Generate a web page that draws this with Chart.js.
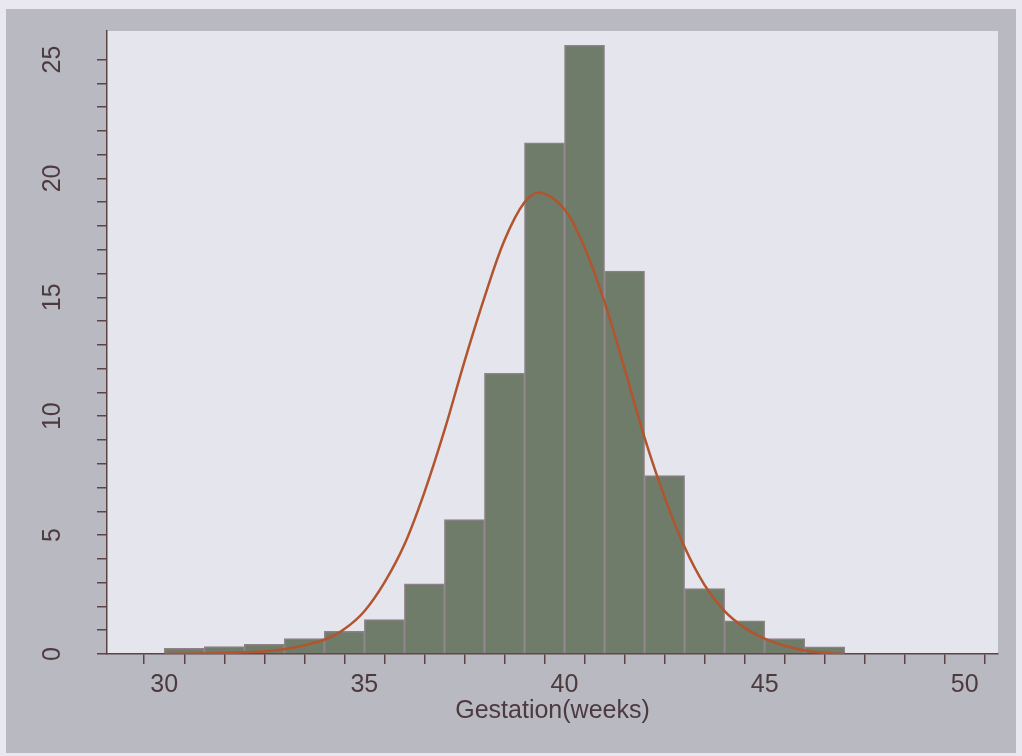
<!DOCTYPE html>
<html>
<head>
<meta charset="utf-8">
<script src="https://cdn.jsdelivr.net/npm/chart.js@4.4.1/dist/chart.umd.min.js"></script>
<style>
    html, body { margin: 0; padding: 0; background: #e8e8ee; }
    #wrap { width: 1022px; height: 756px; position: relative; }
</style>
</head>
<body>
<div id="wrap"><canvas id="chart_hist"></canvas></div>
<script>
// histogram bins (1 week wide), value = bar height
const binStart = [30, 31, 32, 33, 34, 35, 36, 37, 38, 39, 40, 41, 42, 43, 44, 45, 46];
const binValue = [0.24, 0.31, 0.41, 0.65, 0.95, 1.45, 2.95, 5.65, 11.8, 21.5, 25.6, 16.1, 7.5, 2.75, 1.4, 0.65, 0.3];

// fitted normal curve
const curveWeek = [30, 31, 32, 33, 34, 34.5, 35, 35.5, 36, 36.5, 37, 37.5, 38, 38.5, 39, 39.4, 40, 40.5, 41, 41.5, 42, 42.5, 43, 43.5, 44, 44.5, 45, 45.5, 46, 46.5, 47];
const curveValue = [0.0, 0.02, 0.07, 0.2, 0.6, 1.05, 1.8, 3.0, 4.6, 6.8, 9.4, 12.3, 15.0, 17.4, 19.0, 19.4, 18.7, 17.1, 14.8, 12.0, 9.1, 6.6, 4.5, 2.9, 1.8, 1.1, 0.65, 0.35, 0.15, 0.05, 0.0];

const xTicks = [30, 31, 32, 33, 34, 35, 36, 37, 38, 39, 40, 41, 42, 43, 44, 45, 46, 47, 48, 49, 50];
const yTicks = [0, 1, 2, 3, 4, 5, 6, 7, 8, 9, 10, 11, 12, 13, 14, 15, 16, 17, 18, 19, 20, 21, 22, 23, 24, 25];

const axisColor = '#5e4345';
const labelColor = '#4d3a3e';

const frame = {
    id: 'frame',
    beforeDraw(chart) {
        const ctx = chart.ctx;
        const a = chart.chartArea;
        ctx.save();
        ctx.fillStyle = '#e8e8ee';
        ctx.fillRect(0, 0, chart.width, chart.height);
        ctx.fillStyle = '#b9b9c2';
        ctx.fillRect(6, 9, 1010, 744);
        ctx.fillStyle = '#e5e5ee';
        ctx.fillRect(a.left, a.top, a.right - a.left, a.bottom - a.top);
        ctx.restore();
    }
};

new Chart(document.getElementById('chart_hist'), {
    data: {
        datasets: [{
            type: 'line',
            data: curveWeek.map((w, i) => ({ x: w, y: curveValue[i] })),
            borderColor: '#b2552e',
            borderWidth: 2.5,
            pointRadius: 0,
            tension: 0.35,
            order: 0
        }, {
            type: 'bar',
            data: binStart.map((b, i) => ({ x: b + 0.5, y: binValue[i] })),
            backgroundColor: '#6e7c69',
            borderColor: '#8f8088',
            borderWidth: 1.5,
            borderSkipped: 'bottom',
            barPercentage: 1.0,
            categoryPercentage: 1.0,
            order: 1
        }]
    },
    plugins: [frame],
    options: {
        responsive: true,
        maintainAspectRatio: false,
        animation: false,
        layout: {
            padding: { left: 7, right: 24, top: 31, bottom: 30 }
        },
        plugins: {
            legend: { display: false },
            tooltip: { enabled: false }
        },
        scales: {
            x: {
                type: 'linear',
                min: 29.1,
                max: 50.3,
                afterBuildTicks: axis => { axis.ticks = xTicks.map(v => ({ value: v })); },
                grid: { drawOnChartArea: false, drawTicks: true, tickLength: 10, color: axisColor, lineWidth: 1.5 },
                border: { display: true, color: axisColor, width: 1.5 },
                ticks: {
                    autoSkip: false,
                    maxRotation: 0,
                    padding: 6,
                    color: labelColor,
                    font: { family: 'Liberation Sans, Arial, sans-serif', size: 25 },
                    callback: v => (v % 5 === 0 ? String(v) : '')
                },
                title: {
                    display: true,
                    text: 'Gestation(weeks)',
                    color: labelColor,
                    padding: { top: -10, bottom: 0 },
                    font: { family: 'Liberation Sans, Arial, sans-serif', size: 25 }
                }
            },
            y: {
                type: 'linear',
                min: 0,
                max: 26.2,
                afterBuildTicks: axis => { axis.ticks = yTicks.map(v => ({ value: v })); },
                afterFit: axis => { axis.paddingTop = 0; axis.paddingBottom = 0; },
                grid: { drawOnChartArea: false, drawTicks: true, tickLength: 10, color: axisColor, lineWidth: 1.5 },
                border: { display: true, color: axisColor, width: 1.5 },
                ticks: {
                    autoSkip: false,
                    minRotation: 90,
                    maxRotation: 90,
                    crossAlign: 'center',
                    padding: 30,
                    color: labelColor,
                    font: { family: 'Liberation Sans, Arial, sans-serif', size: 25 },
                    callback: v => (v % 5 === 0 ? String(v) : '')
                }
            }
        }
    }
});
</script>
</body>
</html>
